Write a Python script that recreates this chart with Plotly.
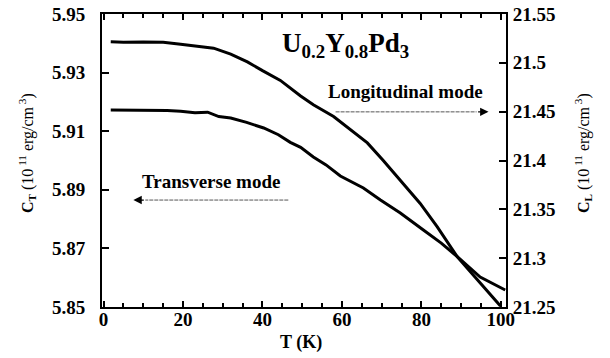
import plotly.graph_objects as go

# Longitudinal mode (right axis, C_L)
T_long = [1.8, 5, 10, 15, 19.4, 23, 27.7, 32, 36.2, 40, 44.5, 49.6, 52.8, 57.9,
          61.4, 66.4, 70.4, 74.7, 79.7, 84.0, 89.1, 94.1, 99.9]
C_L = [21.5216, 21.5212, 21.5214, 21.5210, 21.5190, 21.5170, 21.5150, 21.5090,
       21.5010, 21.4920, 21.4820, 21.4660, 21.4570, 21.4450, 21.4340, 21.4180,
       21.4000, 21.3800, 21.3560, 21.3320, 21.3010, 21.2780, 21.2510]

# Transverse mode (left axis, C_T)
T_trans = [1.8, 6, 11.8, 16, 19.4, 23, 26.2, 29, 32, 36, 40.3, 44, 47, 49.6,
           52.8, 56, 59.6, 65.4, 69.7, 74.7, 80.5, 85, 89.1, 94.8, 101.1]
C_T = [5.9172, 5.9172, 5.9173, 5.9171, 5.9168, 5.9163, 5.9165, 5.9150, 5.9145,
       5.9130, 5.9111, 5.9088, 5.9062, 5.9045, 5.9012, 5.8985, 5.8947, 5.8906,
       5.8865, 5.8821, 5.8763, 5.8718, 5.8671, 5.8602, 5.8558]

x_ticks = [0, 20, 40, 60, 80, 100]
yT_ticks = [5.85, 5.87, 5.89, 5.91, 5.93, 5.95]
yL_ticks = [21.25, 21.3, 21.35, 21.4, 21.45, 21.5, 21.55]
yL_labels = ["21.25", "21.3", "21.35", "21.4", "21.45", "21.5", "21.55"]

FONT = "Liberation Serif, Times New Roman, Times, serif"
tickfont = dict(family=FONT, size=19, color="black", weight="bold")

fig = go.Figure()
fig.add_trace(go.Scatter(x=T_trans, y=C_T, mode="lines", yaxis="y",
                         line=dict(color="black", width=3), showlegend=False))
fig.add_trace(go.Scatter(x=T_long, y=C_L, mode="lines", yaxis="y2",
                         line=dict(color="black", width=3), showlegend=False))

W, H = 610, 358
L, R, Tm, B = 102, 104, 14, 51
pw, ph = W - L - R, H - Tm - B

fig.update_layout(
    width=W, height=H,
    margin=dict(l=L, r=R, t=Tm, b=B, autoexpand=False),
    paper_bgcolor="white", plot_bgcolor="white",
    font=dict(family=FONT, color="black"),
    xaxis=dict(range=[-0.4, 101.3], tickvals=x_ticks, ticks="inside", ticklen=6,
               tickwidth=1.5, tickcolor="black", showline=True, linecolor="black",
               linewidth=2, mirror="ticks", showgrid=False, zeroline=False,
               tickfont=tickfont, ticklabelstandoff=-6,
               minor=dict(dtick=5, tick0=0, ticks="inside", ticklen=4,
                          tickcolor="black", showgrid=False)),
    yaxis=dict(range=[5.85, 5.95], tickvals=yT_ticks,
               ticktext=[f"{v:.2f}" for v in yT_ticks], ticks="inside",
               ticklen=7, tickwidth=1.5, tickcolor="black", showline=True,
               linecolor="black", linewidth=2, showgrid=False, zeroline=False,
               tickfont=tickfont, ticklabelstandoff=11),
    yaxis2=dict(range=[21.25, 21.55], tickvals=yL_ticks, ticktext=yL_labels,
                overlaying="y", side="right", ticks="inside", ticklen=7,
                tickwidth=1.5, tickcolor="black", showline=True, linecolor="black",
                linewidth=2, showgrid=False, zeroline=False, tickfont=tickfont,
                ticklabelstandoff=1),
)

annots = [
    dict(text="<b>U<sub>0.2</sub>Y<sub>0.8</sub>Pd<sub>3</sub></b>", x=345, y=45, size=27),
    dict(text="<b>Longitudinal mode</b>", x=405, y=91, size=19),
    dict(text="<b>Transverse mode</b>", x=211, y=181, size=19),
    dict(text="<b>T (K)</b>", x=301, y=342, size=18),
    dict(text="<b>C<sub>T</sub></b> (10<sup> 11</sup> erg/cm<sup> 3</sup>)", x=27, y=153,
         size=16, textangle=-90),
    dict(text="<b>C<sub>L</sub></b> (10<sup> 11</sup> erg/cm<sup> 3</sup>)", x=583, y=153,
         size=16, textangle=-90),
]
for a in annots:
    fig.add_annotation(xref="paper", yref="paper", showarrow=False,
                       x=(a["x"] - L) / pw, y=1 - (a["y"] - Tm) / ph,
                       xanchor="center", yanchor="middle", text=a["text"],
                       textangle=a.get("textangle", 0),
                       font=dict(family=FONT, size=a["size"], color="black"))

# arrows (data coordinates): dashed shafts + short arrowheads
arrows = [  # (head_x, tail_x, y)
    (96.9, 58.4, 5.9166),
    (7.5, 46.5, 5.8865),
]
for hx, tx, yy in arrows:
    d = 3.0 if hx > tx else -3.0
    fig.add_shape(type="line", xref="x", yref="y", x0=tx, x1=hx - d, y0=yy, y1=yy,
                  line=dict(color="#555", width=1, dash="4px,1px"))
    fig.add_annotation(x=hx, y=yy, ax=hx - d, ay=yy, xref="x", yref="y",
                       axref="x", ayref="y", text="", showarrow=True, arrowhead=2,
                       arrowsize=1.4, arrowwidth=1.2, arrowcolor="black")

fig.write_html("out.html", config={"displayModeBar": False},
               post_script="document.body.style.margin='0';document.body.style.padding='0';")
